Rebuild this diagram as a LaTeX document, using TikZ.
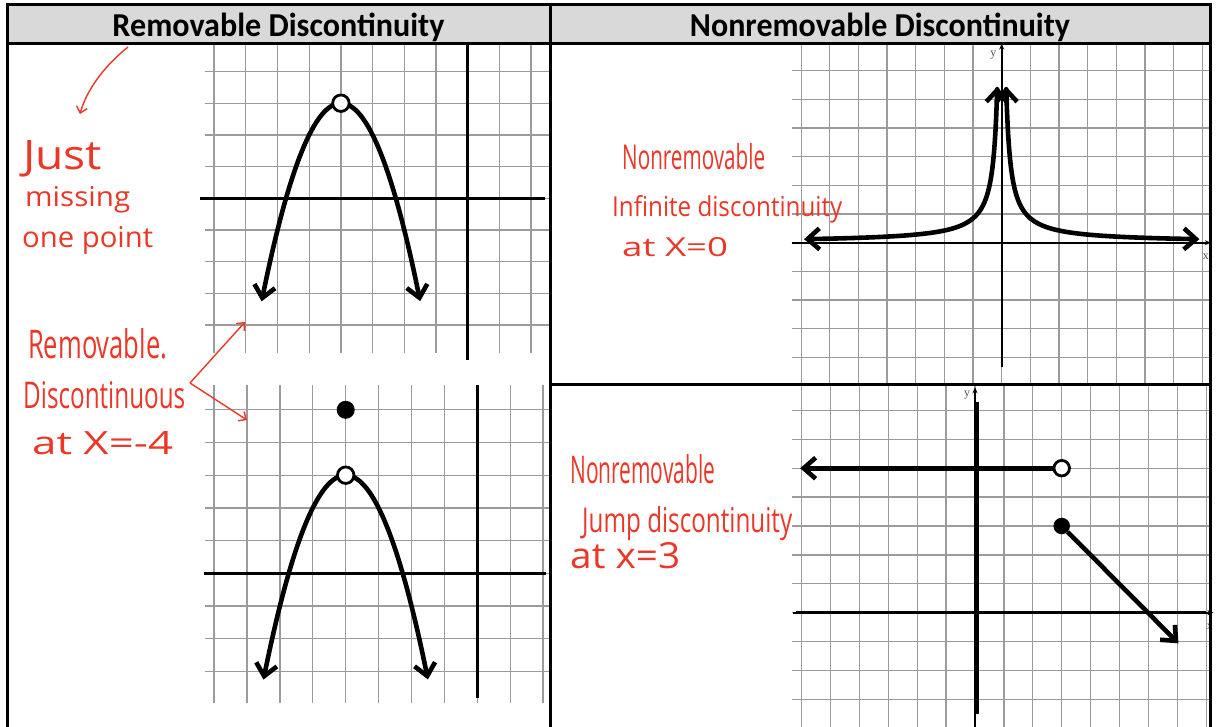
\documentclass[tikz,border=0pt]{standalone}
\usepackage{fontspec}
\usepackage{graphicx}
\setmainfont{Carlito}
\newfontfamily\hand{Open Sans}
\newfontfamily\labfont{Liberation Serif}
\usetikzlibrary{arrows.meta}
\definecolor{gridgray}{RGB}{155,155,155}
\definecolor{headgray}{RGB}{217,217,217}
\definecolor{hred}{RGB}{235,55,40}
\definecolor{labgray}{RGB}{80,80,80}
\newcommand\hwbox[3]{\resizebox{#1pt}{#2pt}{\hand #3}}
\newcommand\hdbox[3]{\resizebox{#1pt}{#2pt}{\bfseries #3}}
\tikzset{
  gridln/.style={draw=gridgray, line width=1.3pt},
  axisln/.style={draw=black, line width=3.3pt},
  thinax/.style={draw=black, line width=1.6pt, -{Stealth[length=6pt,width=5pt]}},
  crv/.style={draw=black, line width=4.6pt, line join=round},
  bigtip/.tip={Straight Barb[length=12pt,width=21pt]},
  opendot/.style={circle, draw=black, fill=white, line width=2.8pt, minimum size=16.5pt, inner sep=0pt},
  soliddot/.style={circle, fill=black, minimum size=18pt, inner sep=0pt},
  hw/.style={text=hred, anchor=base west, inner sep=0pt},
  redarr/.style={draw=hred, line width=1.4pt, -{Straight Barb[length=6pt,width=11pt]}},
  hdr/.style={anchor=base, inner sep=0pt},
  axlab/.style={font=\labfont\fontsize{12}{12}\selectfont, text=labgray, inner sep=0pt},
  frame/.style={draw=black, line width=3pt}
}
\begin{document}
\begin{tikzpicture}[x=1pt,y=-1pt]
\useasboundingbox (0,0) rectangle (1217,727);
\fill[white] (0,0) rectangle (1217,727);

% ---------- top-left panel ----------
\begin{scope}[shift={(467.7,198.3)}, x=31.7pt, y=31.7pt]
  \foreach \i in {-8,...,2} \draw[gridln] (\i,-4.88) -- (\i,4.9);
  \foreach \j in {-4,...,4} \draw[gridln] (-8.29,\j) -- (2.6,\j);
  \draw[axisln] (-8.45,0) -- (2.43,0);
  \draw[axisln] (0,-5.1) -- (0,4.84);
  \draw[crv, bigtip-bigtip] plot[domain=-6.5:-1.5, samples=80] (\x,{3-(\x+4)^2});
  \node[opendot] (tlhole) at (-4,3) {};
\end{scope}

% ---------- bottom-left panel ----------
\begin{scope}[shift={(477.3,573.3)}, x=32.9pt, y=32.7pt]
  \foreach \i in {-8,...,2} \draw[gridln] (\i,-3.98) -- (\i,5.76);
  \foreach \j in {-3,...,5} \draw[gridln] (-8.27,\j) -- (2.21,\j);
  \draw[axisln] (-8.3,0) -- (2.1,0);
  \draw[axisln] (0,-3.82) -- (0,5.76);
  \draw[crv, bigtip-bigtip] plot[domain=-6.5:-1.5, samples=80] (\x,{3-(\x+4)^2});
  \node[opendot] (blhole) at (-4,3) {};
  \node[soliddot] (bldot) at (-4,5) {};
\end{scope}

% ---------- top-right panel ----------
\begin{scope}[shift={(1001.7,242.7)}, x=28.65pt, y=28.65pt]
  \foreach \i in {-7,...,7} \draw[gridln] (\i,-4.97) -- (\i,6.95);
  \foreach \j in {-4,...,6} \draw[gridln] (-7.33,\j) -- (7.25,\j);
  \draw[thinax, line width=2.3pt] (-7.33,0) -- (7.3,0);
  \draw[thinax] (0,-4.33) -- (0,6.95);
  \node[axlab] (tryl) at (-0.29,6.55) {y};
  \node[axlab] (trxl) at (7.13,-0.5) {x};
  \draw[crv, bigtip-bigtip] plot[domain=-6.9:-1, samples=40] (\x,{0.85/abs(\x)})
     -- plot[domain=0.85:5.45, samples=50] ({-0.85/\x},\x);
  \draw[crv, bigtip-bigtip] plot[domain=5.45:0.85, samples=50] ({0.85/\x},\x)
     -- plot[domain=1:6.9, samples=40] (\x,{0.85/\x});
\end{scope}

% ---------- bottom-right panel ----------
\begin{scope}[shift={(975,612.7)}, x=28.9pt, y=28.9pt]
  \foreach \i in {-6,...,8} \draw[gridln] (\i,-3.96) -- (\i,7.87);
  \foreach \j in {-3,...,7} \draw[gridln] (-6.33,\j) -- (8.13,\j);
  \draw[thinax] (0,-3.96) -- (0,7.8);
  \draw[thinax] (-6.3,0) -- (8.25,0);
  \draw[axisln] (0.08,-3.5) -- (0.08,7.3);
  \draw[axisln] (-6.2,0) -- (8.0,0);
  \node[axlab] (bryl) at (-0.27,7.53) {y};
  \node[axlab] (brxl) at (8.13,-0.48) {x};
  \coordinate (brl) at (-6.05,5);
  \node[opendot, minimum size=15.5pt] (brhole) at (3,5) {};
  \draw[crv, bigtip-] (brl) -- (brhole);
  \node[soliddot, minimum size=16.5pt] (brdot) at (3,3) {};
  \coordinate (brr) at (7.04,-1.06);
  \draw[crv, -bigtip] (brdot) -- (brr);
\end{scope}

% ---------- table frame and header ----------
\fill[headgray] (7,5) rectangle (1210,44);
\draw[frame] (7,727) -- (7,5) -- (1210,5) -- (1210,727);
\draw[frame] (7,44) -- (1210,44);
\draw[frame] (550,5) -- (550,727);
\draw[frame] (550,384) -- (1210,384);
\node[hdr] (h1) at (278.5,37) {\hdbox{332}{23.5}{Removable Discontinuity}};
\node[hdr] (h2) at (880,37) {\hdbox{380}{23.5}{Nonremovable Discontinuity}};

% ---------- red handwritten notes ----------
\node[hw] (n1) at (23,170) {\hwbox{79}{29}{Just}};
\node[hw] (n2) at (25,207) {\hwbox{105}{20}{missing}};
\node[hw] (n3) at (22,248) {\hwbox{131}{21}{one point}};
\node[hw] (n4) at (28,358) {\hwbox{139}{30}{Removable.}};
\node[hw] (n5) at (23,408) {\hwbox{162}{27}{Discontinuous}};
\node[hw] (n6) at (32,454) {\hwbox{141}{23}{at X=-4}};

\node[hw] (n7) at (622,170) {\hwbox{143}{26}{Nonremovable}};
\node[hw] (n8) at (612,217) {\hwbox{230}{21}{Infinite discontinuity}};
\node[hw] (n9) at (622,257) {\hwbox{106}{19}{at X=0}};
\node[hw] (n10) at (570,483) {\hwbox{145}{29}{Nonremovable}};
\node[hw] (n11) at (582,532) {\hwbox{210}{26}{Jump discontinuity}};
\node[hw] (n12) at (570,568) {\hwbox{110}{26}{at x=3}};

\coordinate (ctop) at (128,47);
\coordinate (cend) at (80,114);
\draw[redarr] (ctop) .. controls (102,68) and (86,92) .. (cend);
\coordinate (rfork) at (190,383);
\coordinate (rtop) at (245,322);
\coordinate (rbot) at (247,420);
\draw[redarr] (rfork) -- (rtop);
\draw[redarr] (rfork) -- (rbot);
\end{tikzpicture}
\end{document}
